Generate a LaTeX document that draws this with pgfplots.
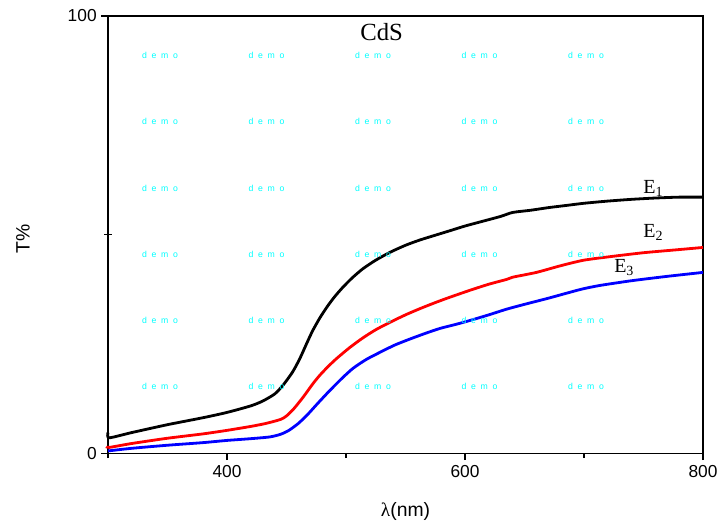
\documentclass[border=0pt]{standalone}
\usepackage{fontspec}
\setmainfont{Liberation Sans}
\newfontfamily\tnr{Liberation Serif}
\usepackage{pgfplots}
\pgfplotsset{compat=1.18}
\usetikzlibrary{calc}
\definecolor{wm}{RGB}{0,255,255}
\begin{document}
\begin{tikzpicture}
\begin{axis}[
  scale only axis,
  width=446pt, height=328pt,
  xmin=300, xmax=800, ymin=0, ymax=100,
  xtick={400,600,800}, minor xtick={300,500,700},
  ytick={0,100},
  extra y ticks={50}, extra y tick labels={},
  extra y tick style={tick align=center, major tick length=6pt},
  tick align=outside, tick pos=left,
  major tick length=5pt, minor tick length=3.5pt,
  every tick/.style={black, line width=0.9pt},
  axis line style={line width=1.1pt},
  tick label style={font=\fontsize{13}{15}\selectfont},
  /pgf/number format/assume math mode=true,
  xlabel={{\tnr λ}(nm)}, ylabel={T\%},
  label style={font=\fontsize{14.5}{16}\selectfont},
  xlabel style={at={(axis description cs:0.50,-0.133)}, anchor=center},
  ylabel style={at={(axis description cs:-0.143,0.49)}, anchor=center},
  clip=false,
]
% watermark
\addplot[draw=none, mark=none, nodes near coords={\fontsize{6.5}{7}\selectfont d\hspace{3.5pt}e\hspace{3.5pt}m\hspace{3.5pt}o},
  every node near coord/.style={anchor=center, text=wm, inner sep=0pt}]
 coordinates {
 (343.7,90.9)(433.2,90.9)(522.7,90.9)(612.2,90.9)(701.7,90.9)
 (343.7,75.8)(433.2,75.8)(522.7,75.8)(612.2,75.8)(701.7,75.8)
 (343.7,60.7)(433.2,60.7)(522.7,60.7)(612.2,60.7)(701.7,60.7)
 (343.7,45.6)(433.2,45.6)(522.7,45.6)(612.2,45.6)(701.7,45.6)
 (343.7,30.5)(433.2,30.5)(522.7,30.5)(612.2,30.5)(701.7,30.5)
 (343.7,15.4)(433.2,15.4)(522.7,15.4)(612.2,15.4)(701.7,15.4)
 };
% E1 black
\addplot[black, line width=2.1pt, smooth, tension=0.4] coordinates {
(300,4.8)(301,3.6)(320,4.8)(350,6.6)(380,8.2)(400,9.4)(420,10.9)(430,12)(440,13.6)(447,15.6)(455,18.6)(461,21.6)(467,25.2)(472,28.1)(478,31.0)(484,33.5)(490,35.7)(497,37.9)(505,40.1)(514,42.2)(525,44.2)(537,46.0)(550,47.6)(562,48.8)(575,49.9)(587,50.9)(600,52.0)(615,53.1)(630,54.2)(640,55.1)(655,55.6)(670,56.2)(685,56.7)(700,57.2)(720,57.7)(740,58.1)(760,58.4)(780,58.6)(800,58.6)
};
% E2 red
\addplot[red, line width=2.1pt, smooth, tension=0.4] coordinates {
(300,1.6)(301,1.4)(320,2.3)(350,3.5)(380,4.5)(400,5.3)(420,6.2)(433,6.9)(445,7.8)(450,8.6)(456,10.2)(464,12.9)(472,15.9)(478,17.9)(485,19.9)(492,21.7)(503,24.2)(514,26.4)(525,28.3)(537,30.0)(550,31.7)(562,33.1)(575,34.5)(587,35.7)(604,37.3)(620,38.7)(635,39.8)(640,40.3)(660,41.4)(680,42.9)(700,44.2)(725,45.1)(750,45.9)(775,46.5)(800,47.1)
};
% E3 blue
\addplot[blue, line width=2.1pt, smooth, tension=0.4] coordinates {
(300,0.6)(320,1.2)(350,1.9)(380,2.5)(400,3.0)(420,3.4)(436,3.8)(445,4.4)(452,5.3)(460,6.9)(468,9.0)(476,11.4)(486,14.3)(497,17.3)(506,19.5)(517,21.5)(529,23.2)(541,24.8)(554,26.2)(567,27.5)(579,28.6)(592,29.5)(604,30.4)(620,31.7)(635,33.0)(650,34.1)(670,35.5)(697,37.5)(713,38.4)(740,39.5)(770,40.5)(800,41.4)
};
\node[anchor=base west, inner sep=0pt, font=\tnr\fontsize{18.5}{20}\selectfont] at (axis cs:511.8,94.5) {CdS};
\node[anchor=base west, inner sep=0pt, font=\tnr\fontsize{15}{17}\selectfont] at (axis cs:749.6,59.5) {E\textsubscript{1}};
\node[anchor=base west, inner sep=0pt, font=\tnr\fontsize{15}{17}\selectfont] at (axis cs:749.6,49.4) {E\textsubscript{2}};
\node[anchor=base west, inner sep=0pt, font=\tnr\fontsize{15}{17}\selectfont] at (axis cs:725.2,41.3) {E\textsubscript{3}};
\end{axis}
\pgfresetboundingbox
\path[use as bounding box] ($(current axis.south west)+(-81pt,-54pt)$) rectangle ($(current axis.north east)+(12pt,12pt)$);
\end{tikzpicture}
\end{document}
